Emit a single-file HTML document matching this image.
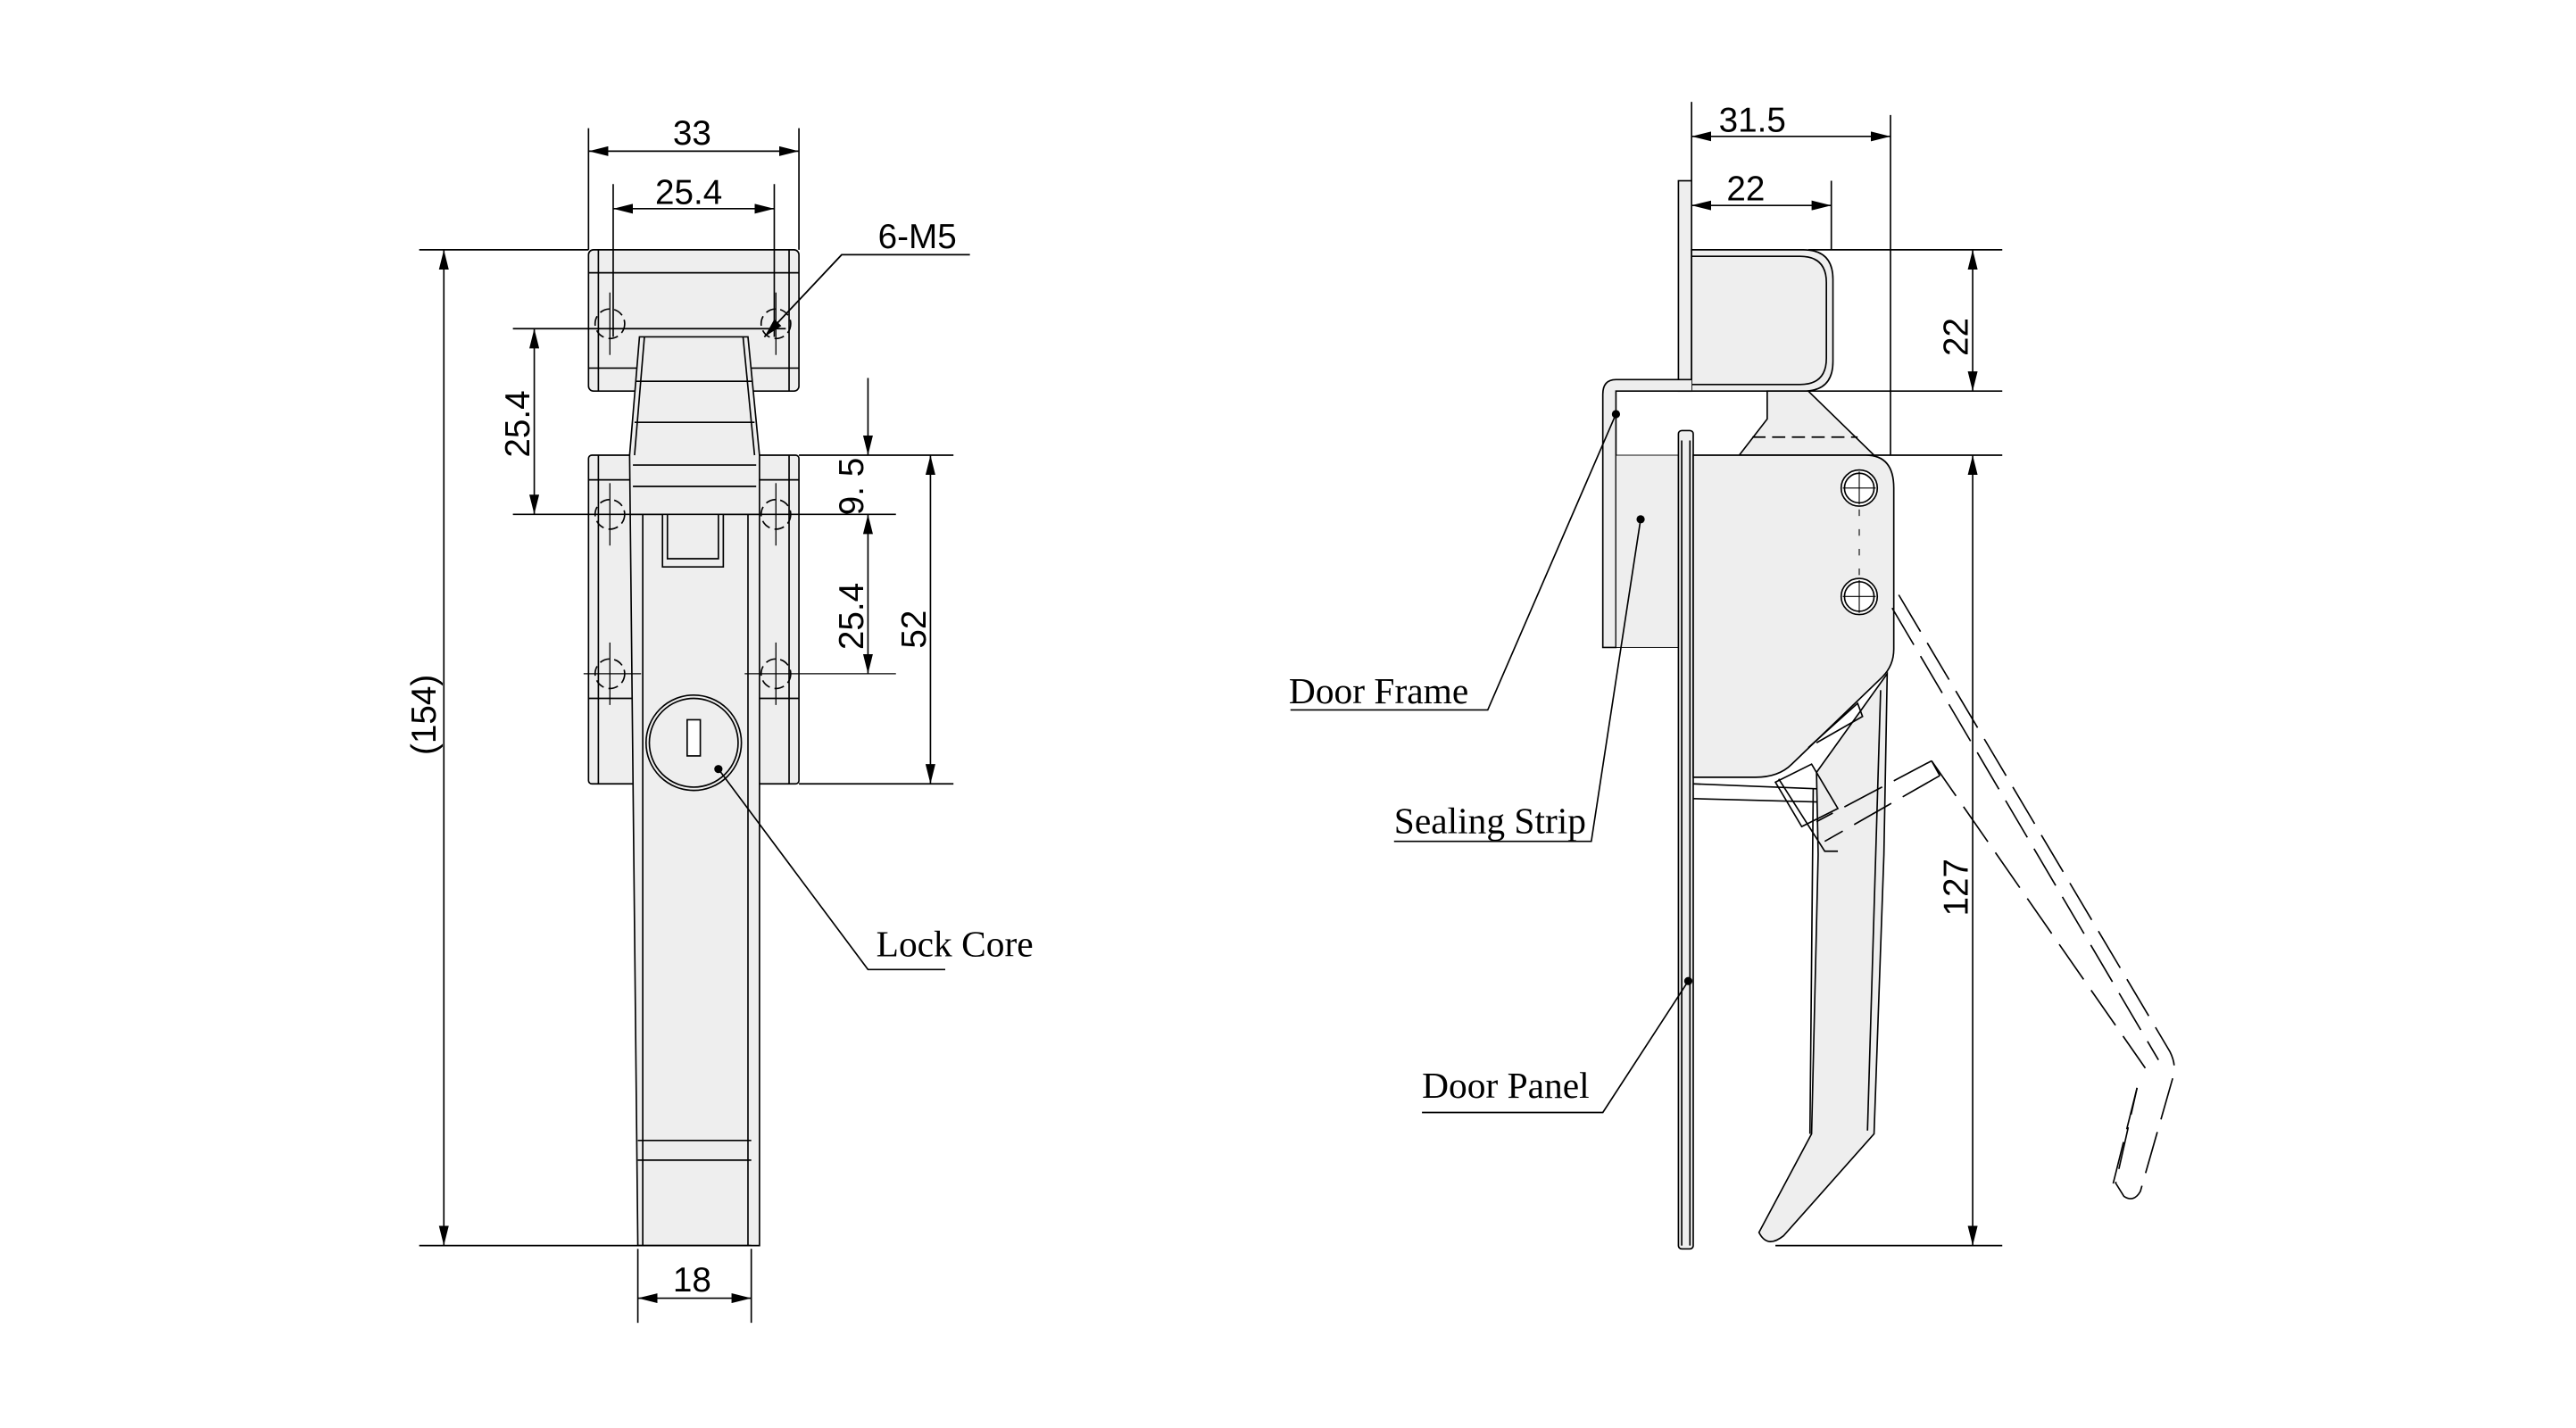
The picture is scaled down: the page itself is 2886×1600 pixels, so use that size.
<!DOCTYPE html>
<html><head><meta charset="utf-8"><style>
html,body{margin:0;padding:0;background:#fff;}
svg{display:block;}
.s{font-family:"Liberation Sans",sans-serif;font-size:21px;fill:#000;}
.r{font-family:"Liberation Serif",serif;font-size:22.5px;fill:#000;}
</style></head><body>
<svg width="2886" height="1600" viewBox="0 0 1567 869" preserveAspectRatio="none" xmlns="http://www.w3.org/2000/svg">
<defs>
<marker id="a" viewBox="0 0 12 6" refX="12" refY="3" markerWidth="12" markerHeight="6" orient="auto-start-reverse" markerUnits="userSpaceOnUse"><path d="M0,0L12,3L0,6z" fill="#000"/></marker>
</defs>
<rect width="1567" height="869" fill="#fff"/>
<g stroke="#000" stroke-width="0.9" fill="none">
<rect x="358" y="152" width="128" height="86" rx="3" fill="#eee"/>
<line x1="364" y1="152" x2="364" y2="238"/><line x1="480" y1="152" x2="480" y2="238"/>
<line x1="358" y1="166" x2="486" y2="166"/><line x1="358" y1="224" x2="486" y2="224"/>
<rect x="358" y="277" width="128" height="200" rx="2" fill="#eee"/>
<line x1="364" y1="277" x2="364" y2="477"/><line x1="480" y1="277" x2="480" y2="477"/>
<line x1="358" y1="292" x2="486" y2="292"/><line x1="358" y1="425" x2="486" y2="425"/>
<path d="M389,205 L455,205 L462,277 L462,758 L388,758 L383,277 Z" fill="#eee"/>
<line x1="392" y1="205" x2="386" y2="277"/><line x1="452" y1="205" x2="459" y2="277"/>
<line x1="387" y1="232" x2="458" y2="232"/><line x1="386" y1="257" x2="459" y2="257"/>
<line x1="385" y1="283" x2="460" y2="283"/><line x1="385" y1="296" x2="460" y2="296"/>
<line x1="391" y1="313" x2="391" y2="758"/><line x1="455" y1="313" x2="455" y2="758"/>
<path d="M383,313 L403,313 L403,345 L440,345 L440,313 L462,313"/>
<path d="M406,313 L406,340 L437,340 L437,313"/>
<line x1="388" y1="694" x2="457" y2="694"/><line x1="388" y1="706" x2="457" y2="706"/>
<circle cx="422" cy="452" r="29" fill="#eee"/><circle cx="422" cy="452" r="27"/>
<rect x="418" y="438" width="8" height="22" fill="#fff"/>
<g stroke-dasharray="6,3">
<circle cx="371" cy="197" r="9"/><circle cx="472" cy="197" r="9"/>
<circle cx="371" cy="313" r="9"/><circle cx="472" cy="313" r="9"/>
<circle cx="371" cy="410" r="9"/><circle cx="472" cy="410" r="9"/>
</g>
<g stroke-width="0.7">
<line x1="371" y1="178" x2="371" y2="216"/><line x1="472" y1="178" x2="472" y2="216"/>
<line x1="371" y1="294" x2="371" y2="332"/><line x1="472" y1="294" x2="472" y2="332"/>
<line x1="371" y1="391" x2="371" y2="429"/><line x1="472" y1="391" x2="472" y2="429"/>
<line x1="355" y1="410" x2="390" y2="410"/><line x1="453" y1="410" x2="545" y2="410"/>
</g>
<line x1="358" y1="78" x2="358" y2="152"/><line x1="486" y1="78" x2="486" y2="152"/>
<line x1="358" y1="92" x2="486" y2="92" marker-start="url(#a)" marker-end="url(#a)"/>
<line x1="373" y1="112" x2="373" y2="205"/><line x1="471" y1="112" x2="471" y2="205"/>
<line x1="373" y1="127" x2="471" y2="127" marker-start="url(#a)" marker-end="url(#a)"/>
<path d="M590,155 L512,155 L465,205"/>
<line x1="512" y1="155" x2="465" y2="205" marker-end="url(#a)"/>
<line x1="255" y1="152" x2="358" y2="152"/><line x1="255" y1="758" x2="457" y2="758"/>
<line x1="270" y1="152" x2="270" y2="758" marker-start="url(#a)" marker-end="url(#a)"/>
<line x1="312" y1="200" x2="478" y2="200"/><line x1="312" y1="313" x2="545" y2="313"/>
<line x1="325" y1="200" x2="325" y2="313" marker-start="url(#a)" marker-end="url(#a)"/>
<line x1="486" y1="277" x2="580" y2="277"/><line x1="486" y1="477" x2="580" y2="477"/>
<line x1="528" y1="230" x2="528" y2="277" marker-end="url(#a)"/>
<line x1="528" y1="313" x2="528" y2="410" marker-start="url(#a)" marker-end="url(#a)"/>
<line x1="566" y1="277" x2="566" y2="477" marker-start="url(#a)" marker-end="url(#a)"/>
<line x1="388" y1="760" x2="388" y2="805"/><line x1="457" y1="760" x2="457" y2="805"/>
<line x1="388" y1="790" x2="457" y2="790" marker-start="url(#a)" marker-end="url(#a)"/>
<path d="M437,468 L528,590 L575,590"/>
<rect x="1021" y="110" width="8" height="128" fill="#eee"/>
<path d="M1029,152 L1097,152 Q1115,152 1115,170 L1115,220 Q1115,238 1097,238 L1029,238 Z" fill="#eee"/>
<path d="M1029,156 L1095,156 Q1111,156 1111,172 L1111,218 Q1111,234 1095,234 L1029,234"/>
<path d="M1029,231 L983,231 Q975,231 975,240 L975,394 L983,394 L983,238 L1029,238" fill="#eee"/>
<rect x="983" y="277" width="38" height="117" fill="#eee" stroke-width="0.5"/>
<rect x="1021" y="262" width="9" height="498" rx="2" fill="#eee"/>
<line x1="1023" y1="268" x2="1023" y2="758"/><line x1="1028" y1="268" x2="1028" y2="758"/>
<path d="M1058,277 L1075,255 L1075,238 L1100,238 L1140,277 Z" fill="#eee"/>
<line x1="1066" y1="266" x2="1130" y2="266" stroke-dasharray="8,4"/>
<path d="M1105,470 L1148,410 L1146,520 L1140,690 L1085,752 Q1075,760 1070,750 L1102,690 L1106,520 Z" fill="#eee"/>
<path d="M1101,690 L1103,480 M1136,688 L1144,420"/>
<path d="M1030,277 L1135,277 Q1152,277 1152,297 L1152,395 Q1152,405 1145,412 L1090,465 Q1082,473 1068,473 L1030,473 Z" fill="#eee"/>
<path d="M1100,455 L1130,428 L1133,436 L1105,452"/>
<path d="M1030,477 L1105,480 M1030,486 L1105,488"/>
<path d="M1080,476 L1102,465 L1118,492 L1096,503 Z"/>
<path d="M1082,474 L1110,518 L1118,518"/>
<circle cx="1131" cy="297" r="11" fill="#fff"/><circle cx="1131" cy="297" r="9"/>
<circle cx="1131" cy="363" r="11" fill="#fff"/><circle cx="1131" cy="363" r="9"/>
<path d="M1131,287 L1131,307 M1121,297 L1141,297 M1131,353 L1131,373 M1121,363 L1141,363" stroke-width="0.6"/>
<line x1="1131" y1="310" x2="1131" y2="350" stroke-dasharray="4,8" stroke-width="0.6"/>
<g stroke-dasharray="26,8">
<path d="M1155,362 L1320,640 Q1324,648 1322,655 L1302,725 Q1298,732 1292,728 L1287,720 L1300,662"/>
<path d="M1151,370 L1313,645 M1300,662 L1285,722"/>
<path d="M1175,463 L1305,650"/>
<path d="M1175,463 L1105,500 M1180,472 L1110,512 M1175,463 L1180,472"/>
</g>
<line x1="1029" y1="62" x2="1029" y2="110"/><line x1="1150" y1="70" x2="1150" y2="277"/>
<line x1="1029" y1="83" x2="1150" y2="83" marker-start="url(#a)" marker-end="url(#a)"/>
<line x1="1114" y1="110" x2="1114" y2="152"/>
<line x1="1029" y1="125" x2="1114" y2="125" marker-start="url(#a)" marker-end="url(#a)"/>
<line x1="1100" y1="152" x2="1218" y2="152"/><line x1="1100" y1="238" x2="1218" y2="238"/>
<line x1="1140" y1="277" x2="1218" y2="277"/><line x1="1080" y1="758" x2="1218" y2="758"/>
<line x1="1200" y1="152" x2="1200" y2="238" marker-start="url(#a)" marker-end="url(#a)"/>
<line x1="1200" y1="277" x2="1200" y2="758" marker-start="url(#a)" marker-end="url(#a)"/>
<path d="M785,432 L905,432 L983,252"/>
<path d="M848,512 L968,512 L998,316"/>
<path d="M865,677 L975,677 L1027,597"/>
</g>
<g fill="#000">
<circle cx="437" cy="468" r="2.5"/><circle cx="983" cy="252" r="2.5"/><circle cx="998" cy="316" r="2.5"/><circle cx="1027" cy="597" r="2.5"/>
</g>
<text class="s" x="421" y="88" text-anchor="middle">33</text>
<text class="s" x="419" y="124" text-anchor="middle">25.4</text>
<text class="s" x="558" y="151" text-anchor="middle">6-M5</text>
<text class="s" transform="translate(265,435) rotate(-90)" text-anchor="middle">(154)</text>
<text class="s" transform="translate(322,258) rotate(-90)" text-anchor="middle">25.4</text>
<text class="s" transform="translate(525,296) rotate(-90)" text-anchor="middle">9. 5</text>
<text class="s" transform="translate(525,375) rotate(-90)" text-anchor="middle">25.4</text>
<text class="s" transform="translate(563,383) rotate(-90)" text-anchor="middle">52</text>
<text class="s" x="421" y="786" text-anchor="middle">18</text>
<text class="r" x="533" y="582">Lock Core</text>
<text class="s" x="1066" y="80" text-anchor="middle">31.5</text>
<text class="s" x="1062" y="122" text-anchor="middle">22</text>
<text class="s" transform="translate(1197,205) rotate(-90)" text-anchor="middle">22</text>
<text class="s" transform="translate(1197,540) rotate(-90)" text-anchor="middle">127</text>
<text class="r" x="784" y="428">Door Frame</text>
<text class="r" x="848" y="507">Sealing Strip</text>
<text class="r" x="865" y="668">Door Panel</text>
</svg>
</body></html>
